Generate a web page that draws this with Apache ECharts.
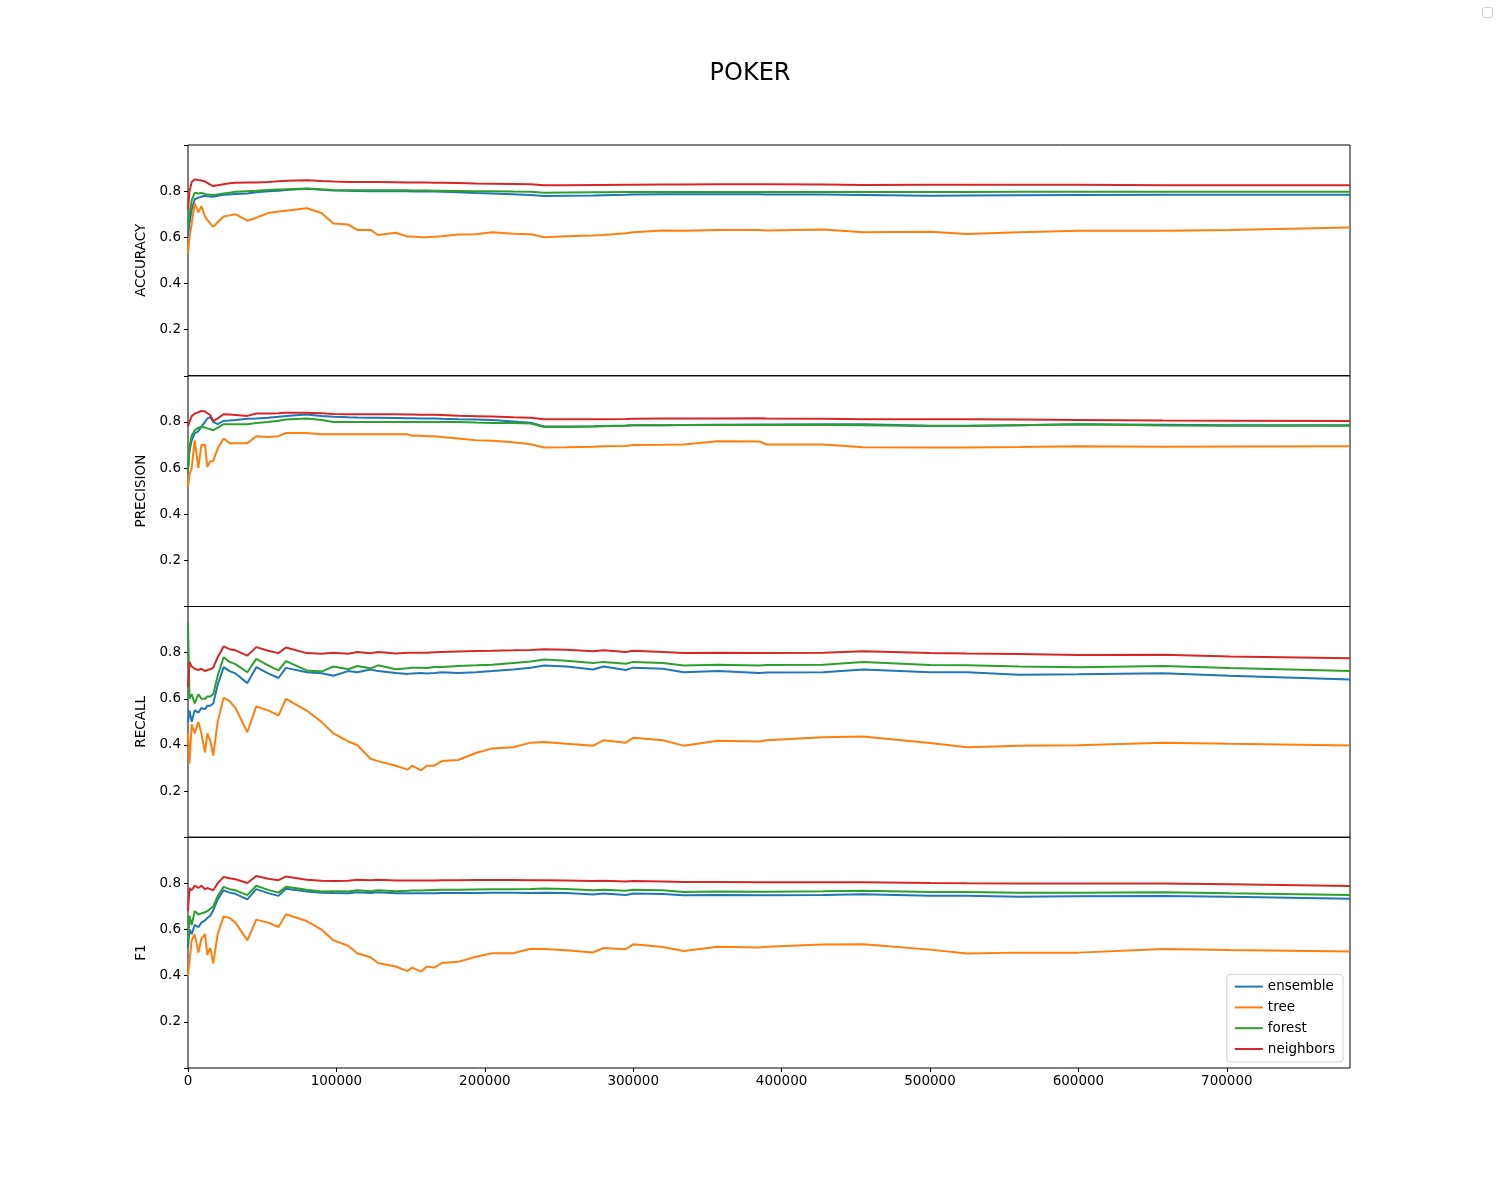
<!DOCTYPE html>
<html>
<head>
<meta charset="utf-8">
<title>POKER</title>
<script src="https://cdn.jsdelivr.net/npm/echarts@6/dist/echarts.min.js"></script>
<style>
  html, body { margin: 0; padding: 0; background: #fff; }
  #chart { width: 1500px; height: 1200px; }
</style>
</head>
<body>
<div id="chart"></div>
<script>
// samples seen so far (x axis)
var steps = [0, 1000, 2500, 4500, 7000, 9000, 11500, 13000, 15000, 17000,
  20000, 24000, 28000, 32000, 40000, 46000, 54000, 61000, 66000, 80000,
  90000, 98000, 108000, 114000, 123000, 128000, 140000, 148000, 151000, 157000,
  161000, 166000, 171000, 182000, 194000, 205000, 219000, 231000, 240000, 255000,
  273000, 280000, 295000, 300000, 320000, 334000, 357000, 385000, 390000, 428000,
  455000, 500000, 525000, 560000, 600000, 657000, 702000, 783000]

var models = ['ensemble', 'tree', 'forest', 'neighbors']
var metrics = ['ACCURACY', 'PRECISION', 'RECALL', 'F1']
var yTicks = [0, 0.2, 0.4, 0.6, 0.8, 1]
var xTicks = [0, 100000, 200000, 300000, 400000, 500000, 600000, 700000]

// ACCURACY
var accEnsemble = [0.60, 0.66, 0.72, 0.765, 0.772, 0.776, 0.780, 0.778, 0.777, 0.776,
  0.780, 0.784, 0.786, 0.788, 0.790, 0.795, 0.800, 0.802, 0.805, 0.810,
  0.806, 0.803, 0.802, 0.801, 0.800, 0.800, 0.800, 0.800, 0.799, 0.799,
  0.798, 0.798, 0.797, 0.795, 0.792, 0.790, 0.787, 0.783, 0.779, 0.780,
  0.781, 0.782, 0.784, 0.786, 0.787, 0.787, 0.787, 0.787, 0.786, 0.785,
  0.783, 0.780, 0.781, 0.782, 0.783, 0.784, 0.784, 0.784]
var accTree = [0.53, 0.60, 0.66, 0.747, 0.708, 0.735, 0.69, 0.675, 0.66, 0.645,
  0.665, 0.69, 0.695, 0.70, 0.672, 0.685, 0.705, 0.712, 0.715, 0.726,
  0.705, 0.66, 0.655, 0.632, 0.632, 0.61, 0.62, 0.603, 0.603, 0.60,
  0.60, 0.602, 0.605, 0.612, 0.613, 0.622, 0.615, 0.613, 0.60, 0.605,
  0.608, 0.610, 0.618, 0.622, 0.630, 0.628, 0.632, 0.632, 0.630, 0.634,
  0.622, 0.624, 0.614, 0.622, 0.628, 0.628, 0.632, 0.642]
var accForest = [0.65, 0.70, 0.76, 0.793, 0.790, 0.792, 0.788, 0.785, 0.784, 0.783,
  0.786, 0.790, 0.793, 0.797, 0.800, 0.802, 0.805, 0.807, 0.808, 0.812,
  0.808, 0.805, 0.804, 0.804, 0.804, 0.804, 0.804, 0.804, 0.803, 0.803,
  0.803, 0.802, 0.802, 0.801, 0.800, 0.800, 0.798, 0.797, 0.793, 0.794,
  0.795, 0.795, 0.796, 0.796, 0.796, 0.796, 0.796, 0.796, 0.796, 0.796,
  0.796, 0.796, 0.796, 0.797, 0.797, 0.797, 0.797, 0.797]
var accNeighbors = [0.72, 0.80, 0.84, 0.851, 0.848, 0.846, 0.842, 0.836, 0.828, 0.822,
  0.826, 0.830, 0.834, 0.836, 0.838, 0.838, 0.840, 0.843, 0.845, 0.847,
  0.844, 0.842, 0.840, 0.840, 0.840, 0.840, 0.839, 0.838, 0.838, 0.837,
  0.837, 0.836, 0.836, 0.835, 0.833, 0.832, 0.831, 0.830, 0.826, 0.826,
  0.827, 0.827, 0.828, 0.828, 0.829, 0.829, 0.830, 0.830, 0.830, 0.829,
  0.827, 0.828, 0.828, 0.828, 0.828, 0.826, 0.826, 0.826]

// PRECISION
var precEnsemble = [0.60, 0.675, 0.72, 0.75, 0.76, 0.78, 0.80, 0.815, 0.82, 0.80,
  0.79, 0.805, 0.806, 0.808, 0.814, 0.815, 0.818, 0.822, 0.826, 0.832,
  0.826, 0.822, 0.820, 0.819, 0.818, 0.818, 0.817, 0.816, 0.816, 0.815,
  0.815, 0.815, 0.814, 0.812, 0.810, 0.808, 0.802, 0.796, 0.780, 0.780,
  0.781, 0.782, 0.784, 0.785, 0.786, 0.787, 0.788, 0.789, 0.789, 0.790,
  0.790, 0.783, 0.783, 0.786, 0.790, 0.788, 0.786, 0.786]
var precTree = [0.52, 0.57, 0.60, 0.72, 0.60, 0.70, 0.70, 0.605, 0.63, 0.63,
  0.685, 0.728, 0.708, 0.708, 0.708, 0.738, 0.735, 0.738, 0.752, 0.752,
  0.746, 0.746, 0.746, 0.746, 0.746, 0.746, 0.746, 0.746, 0.740, 0.740,
  0.738, 0.738, 0.735, 0.728, 0.720, 0.718, 0.712, 0.703, 0.689, 0.690,
  0.692, 0.694, 0.696, 0.700, 0.701, 0.702, 0.716, 0.715, 0.702, 0.702,
  0.690, 0.689, 0.689, 0.691, 0.694, 0.692, 0.693, 0.694]
var precForest = [0.58, 0.69, 0.74, 0.764, 0.775, 0.778, 0.776, 0.772, 0.768, 0.764,
  0.775, 0.79, 0.79, 0.79, 0.79, 0.795, 0.80, 0.805, 0.81, 0.815,
  0.808, 0.80, 0.80, 0.80, 0.80, 0.80, 0.80, 0.80, 0.80, 0.80,
  0.80, 0.80, 0.80, 0.80, 0.797, 0.795, 0.795, 0.793, 0.778, 0.778,
  0.780, 0.781, 0.783, 0.785, 0.786, 0.787, 0.787, 0.787, 0.787, 0.787,
  0.786, 0.782, 0.782, 0.786, 0.790, 0.784, 0.783, 0.783]
var precNeighbors = [0.78, 0.80, 0.825, 0.836, 0.842, 0.847, 0.845, 0.838, 0.83, 0.803,
  0.815, 0.833, 0.832, 0.830, 0.826, 0.836, 0.836, 0.838, 0.840, 0.840,
  0.837, 0.834, 0.833, 0.833, 0.833, 0.833, 0.833, 0.832, 0.832, 0.831,
  0.831, 0.831, 0.830, 0.827, 0.825, 0.823, 0.820, 0.818, 0.811, 0.811,
  0.812, 0.812, 0.813, 0.814, 0.815, 0.815, 0.815, 0.816, 0.815, 0.814,
  0.812, 0.811, 0.811, 0.810, 0.808, 0.806, 0.805, 0.804]

// RECALL
var recEnsemble = [0.50, 0.55, 0.50, 0.55, 0.54, 0.56, 0.555, 0.57, 0.57, 0.58,
  0.66, 0.737, 0.72, 0.71, 0.668, 0.737, 0.71, 0.69, 0.734, 0.715,
  0.711, 0.70, 0.72, 0.715, 0.727, 0.72, 0.712, 0.708, 0.71, 0.712,
  0.71, 0.712, 0.715, 0.712, 0.715, 0.72, 0.727, 0.735, 0.744, 0.74,
  0.727, 0.74, 0.725, 0.735, 0.73, 0.715, 0.72, 0.712, 0.714, 0.715,
  0.727, 0.715, 0.715, 0.704, 0.706, 0.711, 0.70, 0.684]
var recTree = [0.45, 0.32, 0.49, 0.45, 0.50, 0.45, 0.368, 0.45, 0.42, 0.354,
  0.50, 0.605, 0.59, 0.56, 0.455, 0.567, 0.55, 0.528, 0.60, 0.549,
  0.50, 0.45, 0.415, 0.40, 0.34, 0.33, 0.31, 0.293, 0.31, 0.29,
  0.31, 0.31, 0.33, 0.335, 0.365, 0.385, 0.39, 0.41, 0.413, 0.405,
  0.397, 0.42, 0.41, 0.431, 0.42, 0.397, 0.418, 0.415, 0.42, 0.433,
  0.437, 0.408, 0.39, 0.396, 0.399, 0.41, 0.405, 0.398]
var recForest = [0.93, 0.60, 0.62, 0.58, 0.62, 0.60, 0.60, 0.61, 0.61, 0.62,
  0.70, 0.78, 0.76, 0.75, 0.715, 0.773, 0.745, 0.723, 0.763, 0.723,
  0.718, 0.74, 0.728, 0.742, 0.732, 0.745, 0.728, 0.732, 0.735, 0.735,
  0.733, 0.738, 0.738, 0.742, 0.745, 0.748, 0.755, 0.762, 0.77, 0.765,
  0.755, 0.76, 0.752, 0.76, 0.755, 0.744, 0.748, 0.744, 0.746, 0.748,
  0.759, 0.747, 0.745, 0.74, 0.737, 0.742, 0.733, 0.72]
var recNeighbors = [0.65, 0.76, 0.74, 0.73, 0.725, 0.73, 0.72, 0.725, 0.728, 0.735,
  0.78, 0.827, 0.815, 0.81, 0.787, 0.824, 0.808, 0.798, 0.822, 0.798,
  0.795, 0.80, 0.795, 0.803, 0.797, 0.803, 0.796, 0.80, 0.80, 0.80,
  0.80, 0.802, 0.803, 0.805, 0.807, 0.808, 0.81, 0.812, 0.815, 0.813,
  0.806, 0.81, 0.803, 0.808, 0.803, 0.798, 0.80, 0.798, 0.799, 0.80,
  0.806, 0.798, 0.796, 0.794, 0.79, 0.791, 0.783, 0.776]

// F1
var f1Ensemble = [0.52, 0.60, 0.58, 0.62, 0.61, 0.63, 0.64, 0.65, 0.66, 0.684,
  0.73, 0.77, 0.76, 0.755, 0.731, 0.775, 0.758, 0.746, 0.777, 0.765,
  0.760, 0.758, 0.757, 0.762, 0.758, 0.762, 0.757, 0.757, 0.757, 0.757,
  0.757, 0.757, 0.758, 0.758, 0.758, 0.759, 0.759, 0.758, 0.76, 0.758,
  0.752, 0.756, 0.75, 0.756, 0.754, 0.749, 0.75, 0.749, 0.749, 0.75,
  0.753, 0.746, 0.746, 0.742, 0.744, 0.745, 0.742, 0.733]
var f1Tree = [0.40, 0.395, 0.553, 0.58, 0.50, 0.56, 0.58, 0.49, 0.52, 0.453,
  0.58, 0.657, 0.65, 0.63, 0.553, 0.643, 0.63, 0.611, 0.666, 0.637,
  0.60, 0.553, 0.53, 0.497, 0.48, 0.455, 0.44, 0.42, 0.435, 0.418,
  0.44, 0.435, 0.455, 0.46, 0.482, 0.497, 0.497, 0.517, 0.516, 0.51,
  0.501, 0.52, 0.515, 0.536, 0.524, 0.507, 0.525, 0.522, 0.525, 0.535,
  0.536, 0.513, 0.496, 0.50, 0.50, 0.516, 0.511, 0.505]
var f1Forest = [0.55, 0.66, 0.62, 0.68, 0.665, 0.67, 0.675, 0.68, 0.69, 0.70,
  0.745, 0.785, 0.775, 0.77, 0.749, 0.79, 0.772, 0.76, 0.785, 0.772,
  0.765, 0.766, 0.765, 0.77, 0.766, 0.77, 0.766, 0.768, 0.769, 0.769,
  0.77, 0.771, 0.772, 0.773, 0.774, 0.775, 0.775, 0.776, 0.778, 0.776,
  0.77, 0.773, 0.768, 0.772, 0.77, 0.763, 0.765, 0.764, 0.764, 0.766,
  0.768, 0.763, 0.763, 0.760, 0.760, 0.762, 0.757, 0.75]
var f1Neighbors = [0.68, 0.78, 0.77, 0.79, 0.78, 0.79, 0.775, 0.78, 0.775, 0.77,
  0.80, 0.828, 0.822, 0.818, 0.802, 0.832, 0.82, 0.814, 0.83, 0.816,
  0.812, 0.81, 0.812, 0.816, 0.814, 0.816, 0.813, 0.813, 0.813, 0.813,
  0.813, 0.813, 0.814, 0.814, 0.815, 0.815, 0.815, 0.814, 0.814, 0.813,
  0.81, 0.811, 0.808, 0.81, 0.808, 0.806, 0.806, 0.805, 0.805, 0.805,
  0.805, 0.802, 0.801, 0.80, 0.80, 0.80, 0.796, 0.789]

var panels = [
  [accEnsemble, accTree, accForest, accNeighbors],
  [precEnsemble, precTree, precForest, precNeighbors],
  [recEnsemble, recTree, recForest, recNeighbors],
  [f1Ensemble, f1Tree, f1Forest, f1Neighbors]
]

var colors = ['#1f77b4', '#ff7f0e', '#2ca02c', '#d62728']
var font = 'DejaVu Sans'
var plotTop = 145
var plotH = 923 / 4

var grids = [], xAxes = [], yAxes = [], series = []

metrics.forEach(function (name, p) {
  var last = p === metrics.length - 1
  grids.push({
    left: 188,
    right: 150,
    top: plotTop + p * plotH,
    height: plotH,
    show: true,
    borderColor: '#000',
    borderWidth: 1,
    backgroundColor: 'transparent'
  })
  xAxes.push({
    type: 'value',
    gridIndex: p,
    min: 0,
    max: 783000,
    interval: 100000,
    splitLine: { show: false },
    axisLine: { show: false },
    axisTick: { show: last, length: 4, lineStyle: { color: '#000' } },
    axisLabel: {
      show: last,
      color: '#000',
      fontFamily: font,
      fontSize: 13.5,
      margin: 6,
      showMaxLabel: false,
      formatter: function (v) { return xTicks.indexOf(v) >= 0 ? String(v) : '' }
    }
  })
  yAxes.push({
    type: 'value',
    gridIndex: p,
    min: 0,
    max: 1,
    interval: 0.2,
    name: name,
    nameLocation: 'middle',
    nameGap: 40,
    nameTextStyle: { color: '#000', fontFamily: font, fontSize: 13.5 },
    splitLine: { show: false },
    axisLine: { show: false },
    axisTick: { show: true, length: 4, lineStyle: { color: '#000' } },
    axisLabel: {
      color: '#000',
      fontFamily: font,
      fontSize: 13.5,
      margin: 7,
      showMinLabel: true,
      showMaxLabel: true,
      formatter: function (v) {
        var t = Math.round(v * 10) / 10
        if (t <= 0 || t >= 1 || yTicks.indexOf(t) < 0) return ''
        return t.toFixed(1)
      }
    }
  })
  panels[p].forEach(function (vals, m) {
    series.push({
      name: models[m],
      type: 'line',
      xAxisIndex: p,
      yAxisIndex: p,
      symbol: 'none',
      smooth: false,
      animation: false,
      lineStyle: { color: colors[m], width: 2 },
      itemStyle: { color: colors[m] },
      data: steps.map(function (s, i) { return [s, vals[i]] })
    })
  })
})

var chart = echarts.init(document.getElementById('chart'))
chart.setOption({
  animation: false,
  backgroundColor: '#fff',
  color: colors,
  title: {
    text: 'POKER',
    left: 'center',
    top: 57,
    textStyle: { color: '#000', fontFamily: font, fontSize: 24, fontWeight: 'normal' }
  },
  legend: {
    data: models,
    orient: 'vertical',
    right: 157,
    bottom: 138,
    icon: 'rect',
    itemWidth: 28,
    itemHeight: 2,
    itemGap: 6.8,
    padding: [5, 8, 6, 8],
    backgroundColor: 'rgba(255,255,255,0.8)',
    borderColor: '#d0d0d0',
    borderWidth: 1,
    borderRadius: 3,
    textStyle: { color: '#000', fontFamily: font, fontSize: 13.5 }
  },
  graphic: [{
    type: 'rect',
    right: 7,
    top: 7,
    shape: { width: 10, height: 10, r: 2 },
    style: { fill: '#fff', stroke: '#d0d0d0', lineWidth: 1 }
  }],
  grid: grids,
  xAxis: xAxes,
  yAxis: yAxes,
  series: series
})
</script>
</body>
</html>
